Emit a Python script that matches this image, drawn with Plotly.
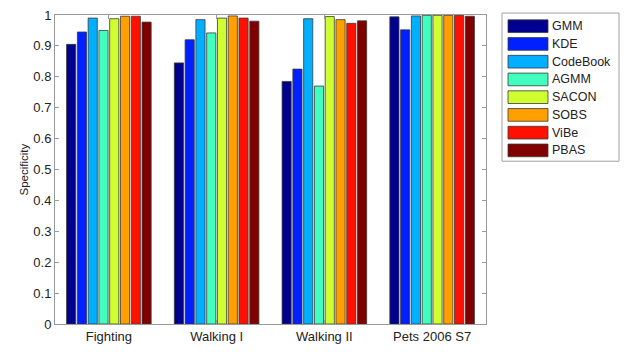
import plotly.graph_objects as go

# Sequences and background-subtraction methods
categories = ["Fighting", "Walking I", "Walking II", "Pets 2006 S7"]
methods = ["GMM", "KDE", "CodeBook", "AGMM", "SACON", "SOBS", "ViBe", "PBAS"]

# Specificity per method, one value per sequence
gmm = [0.905, 0.845, 0.785, 0.994]
kde = [0.945, 0.920, 0.825, 0.952]
codebook = [0.990, 0.985, 0.988, 0.997]
agmm = [0.950, 0.942, 0.770, 0.999]
sacon = [0.988, 0.990, 0.995, 0.999]
sobs = [0.996, 0.997, 0.985, 0.999]
vibe = [0.996, 0.990, 0.973, 0.999]
pbas = [0.977, 0.980, 0.981, 0.996]

series = [gmm, kde, codebook, agmm, sacon, sobs, vibe, pbas]

# jet(64) colours sampled at 8 evenly spaced indices
colors = ["#00008F", "#0020FF", "#00AFFF", "#40FFBF",
          "#CFFF30", "#FF9F00", "#FF1000", "#800000"]

yticks = [0, 0.1, 0.2, 0.3, 0.4, 0.5, 0.6, 0.7, 0.8, 0.9, 1]
ytick_text = ["0", "0.1", "0.2", "0.3", "0.4", "0.5", "0.6", "0.7", "0.8", "0.9", "1"]

FONT = "Arial, Liberation Sans, sans-serif"
TXT = "#222"

fig = go.Figure()
for name, vals, col in zip(methods, series, colors):
    fig.add_trace(go.Bar(
        x=categories, y=vals, name=name,
        marker=dict(color=col, line=dict(color="#3a3a3a", width=0.8)),
        showlegend=False,
    ))

W, H = 628, 352
ml, mr, mt, mb = 55, 142, 8, 27
pw, ph = W - ml - mr, H - mt - mb

fig.update_layout(
    width=W, height=H,
    margin=dict(l=ml, r=mr, t=mt, b=mb, pad=0),
    paper_bgcolor="white", plot_bgcolor="white",
    barmode="group", bargap=0.2, bargroupgap=0.15,
    font=dict(family=FONT, size=13, color=TXT),
    xaxis=dict(
        range=[-0.5, 3.5], showline=True, linecolor="#9a9a9a", linewidth=1,
        mirror="allticks", ticks="inside", ticklen=4, tickcolor="#9a9a9a",
        showgrid=False, tickfont=dict(size=13, family=FONT, color=TXT),
    ),
    yaxis=dict(
        range=[0, 1], tickvals=yticks, ticktext=ytick_text,
        showline=True, linecolor="#9a9a9a", linewidth=1,
        mirror="allticks", ticks="inside", ticklen=4, tickcolor="#9a9a9a",
        showgrid=False, zeroline=False,
        tickfont=dict(size=13, family=FONT, color=TXT),
    ),
)

# Y axis title
fig.add_annotation(
    text="Specificity", xref="paper", yref="paper",
    x=(23 - ml) / pw, y=0.5, xanchor="center", yanchor="middle",
    textangle=-90, showarrow=False,
    font=dict(size=11.5, family=FONT, color=TXT),
)

# Boxed legend with wide swatches, laid out in pixel units
def px_x(x):
    return (x - ml) / pw

def px_y(y):
    return (H - mb - y) / ph

box_l, box_r, box_t, box_b = 502, 619, 6, 158
fig.add_shape(type="rect", xref="paper", yref="paper",
              x0=px_x(box_l), x1=px_x(box_r), y0=px_y(box_b), y1=px_y(box_t),
              line=dict(color="#a0a0a0", width=1), fillcolor="white")
row0, step = 19.5, 18.2
for i, (name, col) in enumerate(zip(methods, colors)):
    cy = row0 + i * step
    fig.add_shape(type="rect", xref="paper", yref="paper",
                  x0=px_x(508), x1=px_x(548), y0=px_y(cy + 6.5), y1=px_y(cy - 6.5),
                  line=dict(color="#3a3a3a", width=0.8), fillcolor=col)
    fig.add_annotation(text=name, xref="paper", yref="paper",
                       x=px_x(550), y=px_y(cy), xanchor="left", yanchor="middle",
                       showarrow=False,
                       font=dict(size=12.5, family=FONT, color=TXT))

fig.write_html("out.html")
